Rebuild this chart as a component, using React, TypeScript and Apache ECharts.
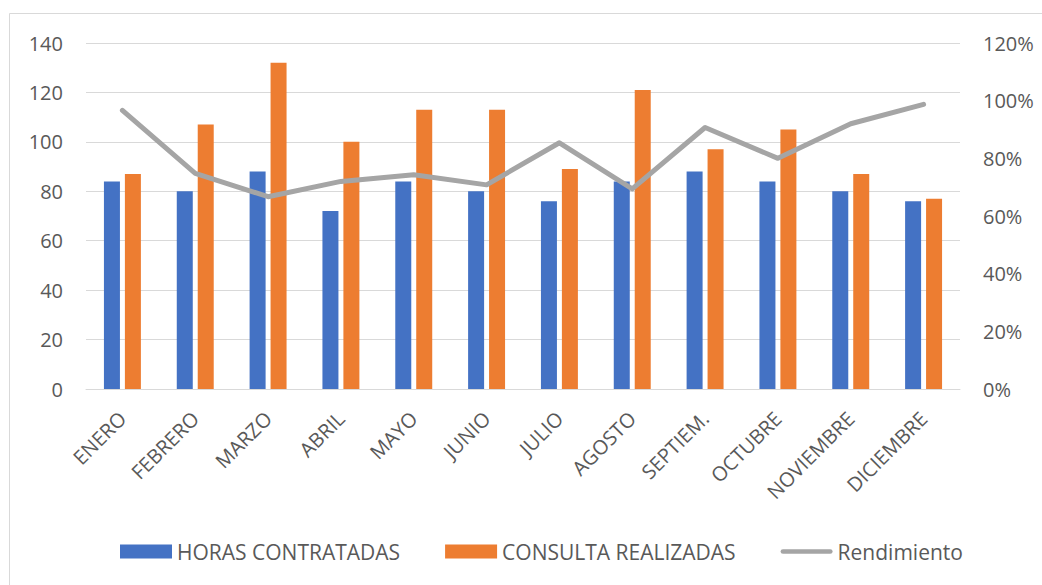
import React, { useEffect, useRef } from "react";
import * as echarts from "echarts";

const categories = ["ENERO", "FEBRERO", "MARZO", "ABRIL", "MAYO", "JUNIO", "JULIO", "AGOSTO", "SEPTIEM.", "OCTUBRE", "NOVIEMBRE", "DICIEMBRE"];
const horasContratadas = [84, 80, 88, 72, 84, 80, 76, 84, 88, 84, 80, 76];
const consultaRealizadas = [87, 107, 132, 100, 113, 113, 89, 121, 97, 105, 87, 77];
const rendimiento = [0.966, 0.748, 0.667, 0.72, 0.743, 0.708, 0.854, 0.694, 0.907, 0.8, 0.92, 0.987];
const leftTicks = [0, 20, 40, 60, 80, 100, 120, 140];
const rightTicks = [0, 0.2, 0.4, 0.6, 0.8, 1.0, 1.2];

const FONT = "'Open Sans', 'Liberation Sans', Arial, sans-serif";
const TXT = "#595959";
const LINE_ICON = "path://M2.5,0 L53.5,0 A2.5,2.5 0 0 1 53.5,5 L2.5,5 A2.5,2.5 0 0 1 2.5,0 Z";

export default function App() {
  const ref = useRef<HTMLDivElement>(null);
  useEffect(() => {
    if (!ref.current) return;
    const chart = echarts.init(ref.current, undefined, { renderer: "svg" });
    chart.setOption({
      animation: false,
      backgroundColor: "#ffffff",
      textStyle: { fontFamily: FONT },
      graphic: [
        {
          type: "rect",
          shape: { x: 9.5, y: 13.5, width: 1100, height: 640 },
          style: { fill: "none", stroke: "#d9d9d9", lineWidth: 1 },
          silent: true,
        },
      ],
      grid: { left: 86, right: 82, top: 43, bottom: 196, containLabel: false },
      legend: {
        left: 115,
        top: 536,
        itemWidth: 52,
        itemHeight: 14,
        itemGap: 45,
        textStyle: { color: TXT, fontSize: 21, fontFamily: FONT },
        data: [
          { name: "HORAS CONTRATADAS", icon: "rect" },
          { name: "CONSULTA REALIZADAS", icon: "rect" },
          { name: "Rendimiento", icon: LINE_ICON },
        ],
      },
      xAxis: {
        type: "category",
        data: categories,
        axisTick: { show: false },
        axisLine: { lineStyle: { color: "#d9d9d9", width: 1 } },
        axisLabel: { rotate: 45, color: TXT, fontSize: 20, margin: 26, interval: 0 },
      },
      yAxis: [
        {
          type: "value",
          min: leftTicks[0],
          max: leftTicks[leftTicks.length - 1],
          interval: 20,
          axisLine: { show: false },
          axisTick: { show: false },
          splitLine: { lineStyle: { color: "#d9d9d9", width: 1 } },
          axisLabel: { color: TXT, fontSize: 20, margin: 23 },
        },
        {
          type: "value",
          min: rightTicks[0],
          max: rightTicks[rightTicks.length - 1],
          interval: 0.2,
          position: "right",
          axisLine: { show: false },
          axisTick: { show: false },
          splitLine: { show: false },
          axisLabel: {
            color: TXT,
            fontSize: 20,
            margin: 23,
            formatter: (v: number) => Math.round(v * 100) + "%",
          },
        },
      ],
      series: [
        {
          name: "HORAS CONTRATADAS",
          type: "bar",
          data: horasContratadas,
          barWidth: 16,
          barGap: "31%",
          itemStyle: { color: "#4472c4" },
        },
        {
          name: "CONSULTA REALIZADAS",
          type: "bar",
          data: consultaRealizadas,
          barWidth: 16,
          itemStyle: { color: "#ed7d31" },
        },
        {
          name: "Rendimiento",
          type: "line",
          yAxisIndex: 1,
          data: rendimiento,
          symbol: "none",
          lineStyle: { color: "#a5a5a5", width: 5, cap: "round", join: "round" },
          itemStyle: { color: "#a5a5a5" },
        },
      ],
    });
    return () => chart.dispose();
  }, []);
  return (
    <div
      ref={ref}
      style={{ position: "fixed", left: 0, top: 0, width: 1042, height: 585, background: "#fff" }}
    />
  );
}
